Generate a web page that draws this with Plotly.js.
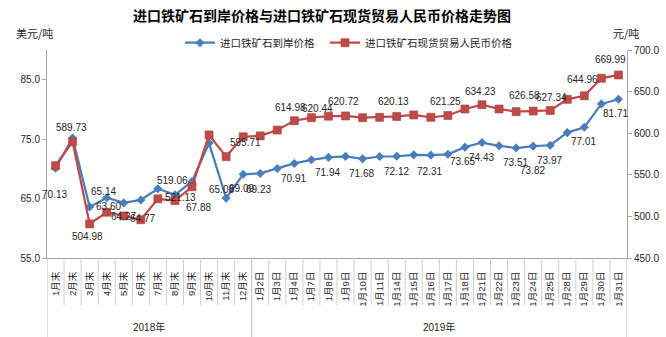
<!DOCTYPE html>
<html><head><meta charset="utf-8">
<script src="https://cdn.plot.ly/plotly-3.0.1.min.js"></script>
<style>html,body{margin:0;padding:0;background:#fff}#chart{width:666px;height:337px}</style>
</head><body><div id="chart"></div>
<script>
// ---- data ----
const categories = ["1月末","2月末","3月末","4月末","5月末","6月末","7月末","8月末","9月末","10月末","11月末","12月末",
  "1月2日","1月3日","1月4日","1月7日","1月8日","1月9日","1月10日","1月11日","1月14日","1月15日","1月16日","1月17日",
  "1月18日","1月21日","1月22日","1月23日","1月24日","1月25日","1月28日","1月29日","1月30日","1月31日"];
const yearGroups = ["2018年","2019年"];
const yearCounts = [12, 22];
const usdPrice = [70.13,75.20,63.60,65.14,64.27,64.77,66.65,65.64,67.88,74.33,65.08,69.09,
  69.23,70.06,70.91,71.52,71.94,72.10,71.68,72.08,72.12,72.36,72.31,72.45,
  73.65,74.43,73.87,73.51,73.82,73.97,76.10,77.01,80.93,81.71];
const rmbPrice = [561.0,589.73,491.0,504.98,500.6,496.0,521.13,519.06,535.6,597.9,571.9,595.71,
  596.8,603.8,614.98,618.6,620.44,620.72,618.6,619.1,620.13,621.9,619.1,621.25,
  629.1,634.23,629.1,625.9,626.58,627.34,640.7,644.96,666.0,669.99];
const seriesNames = ["进口铁矿石到岸价格","进口铁矿石现货贸易人民币价格"];
// which points carry a data label
const usdLabelIdx = [0,2,3,4,5,8,10,11,12,14,16,18,20,22,24,25,27,28,29,31,33];
const rmbLabelIdx = [1,3,6,7,11,14,16,17,20,23,25,28,29,31,33];

// ---- label offsets (px) ----
const usdLabelOff = [[-1,26],[19,0],[-3,-6],[0,14],[2,19],[6,26],[-5,-9],[-2,14],[-2,16],[-1,15],[-1,15],[-1,15],[0,15],[-1,16],[-2,14],[-1,15],[-1,14],[-1,24],[-1,15],[-1,14],[-3,14]];
const rmbLabelOff = [[-1,-14],[-19,24],[23,-1],[-2,-20],[2,6],[-4,-13],[-11,-8],[-2,-14],[-3,-15],[-2,-14],[-2,-13],[-9,-16],[1,-13],[-2,-16],[-8,-15]];

const BLUE = '#4a7ebb', RED = '#be4b48', AX = '#a6a6a6', TXT = '#262626';
const numFont = {family:'Liberation Sans, Arial, sans-serif', size:10, color:TXT};

const traces = [
  {x:categories, y:usdPrice, name:seriesNames[0], type:'scatter', mode:'lines+markers', yaxis:'y',
   line:{color:BLUE, width:2.25}, marker:{symbol:'diamond', size:7, color:BLUE}, legend:'legend', hoverinfo:'skip'},
  {x:categories, y:rmbPrice, name:seriesNames[1], type:'scatter', mode:'lines+markers', yaxis:'y2',
   line:{color:RED, width:2.25}, marker:{symbol:'square', size:8, color:RED, line:{color:'#a43e3b', width:0.6}}, legend:'legend2', hoverinfo:'skip'}
];

const annotations = [];
usdLabelIdx.forEach((k,j)=>annotations.push({xref:'x', yref:'y', x:k, y:usdPrice[k], text:usdPrice[k].toFixed(2),
  showarrow:false, xshift:usdLabelOff[j][0], yshift:-usdLabelOff[j][1], font:numFont}));
rmbLabelIdx.forEach((k,j)=>annotations.push({xref:'x', yref:'y2', x:k, y:rmbPrice[k], text:rmbPrice[k].toFixed(2),
  showarrow:false, xshift:rmbLabelOff[j][0], yshift:-rmbLabelOff[j][1], font:numFont}));

// year group labels & dividers
const shapes = [];
let start = 0;
const boundaries = [0];
yearCounts.forEach((n,g)=>{
  annotations.push({xref:'x', yref:'paper', x:start + (n-1)/2, y:-0.33, text:yearGroups[g], showarrow:false,
    font:{family:'Liberation Sans, Noto Sans CJK SC, sans-serif', size:10, color:TXT}, yanchor:'middle'});
  start += n; boundaries.push(start);
});
for (let i=0;i<=categories.length;i++){
  const isGroup = boundaries.includes(i);
  shapes.push({type:'line', xref:'x', yref:'paper', x0:i-0.5, x1:i-0.5, y0:0, y1:isGroup?-0.40:-0.226,
    line:{color: isGroup ? '#bfbfbf' : '#d0d0d0', width:1}});
}
// axis unit labels
annotations.push({xref:'paper', yref:'paper', x:(34-47)/580, y:(258.3-33)/208.3, text:'美元/吨', showarrow:false,
  font:{family:'Noto Sans CJK SC, sans-serif', size:11, color:TXT}, xanchor:'center', yanchor:'middle'});
annotations.push({xref:'paper', yref:'paper', x:(626-47)/580, y:(258.3-33)/208.3, text:'元/吨', showarrow:false,
  font:{family:'Noto Sans CJK SC, sans-serif', size:11, color:TXT}, xanchor:'center', yanchor:'middle'});

const legFont = {family:'Noto Sans CJK SC, sans-serif', size:10.5, color:TXT};
const layout = {
  width:666, height:337, margin:{l:47, r:39, t:50, b:79},
  paper_bgcolor:'#fff', plot_bgcolor:'#fff',
  title:{text:'进口铁矿石到岸价格与进口铁矿石现货贸易人民币价格走势图', xref:'paper', x:(322-47)/580, xanchor:'center',
    yref:'container', y:1-16/337, yanchor:'middle',
    font:{family:'Noto Sans CJK SC, sans-serif', size:14, color:'#000', weight:700}},
  showlegend:true,
  legend:{orientation:'h', x:(180-47)/580, xanchor:'left', y:(258.3-42.7)/208.3, yanchor:'middle', font:legFont,
    itemwidth:30, bgcolor:'rgba(0,0,0,0)'},
  legend2:{orientation:'h', x:(325-47)/580, xanchor:'left', y:(258.3-42.7)/208.3, yanchor:'middle', font:legFont,
    itemwidth:30, bgcolor:'rgba(0,0,0,0)'},
  xaxis:{type:'category', range:[-0.5, categories.length-0.5], showline:true, linecolor:AX, linewidth:1,
    ticks:'', tickangle:-90, ticklabelstandoff:9, showgrid:false, zeroline:false, fixedrange:true,
    tickfont:{family:'Liberation Sans, Noto Sans CJK SC, sans-serif', size:9.5, color:TXT}},
  yaxis:{range:[55,90], tick0:55, dtick:10, tickformat:'.1f', showline:true, linecolor:AX, ticks:'outside', ticklen:4,
    tickcolor:AX, showgrid:false, zeroline:false, tickfont:numFont, fixedrange:true},
  yaxis2:{range:[450,700], tick0:450, dtick:50, tickformat:'.1f', overlaying:'y', side:'right', showline:true, linecolor:AX,
    ticks:'outside', ticklen:4, tickcolor:AX, showgrid:false, zeroline:false, tickfont:numFont, fixedrange:true},
  annotations:annotations, shapes:shapes
};
Plotly.newPlot('chart', traces, layout, {displayModeBar:false, staticPlot:true});
</script></body></html>
